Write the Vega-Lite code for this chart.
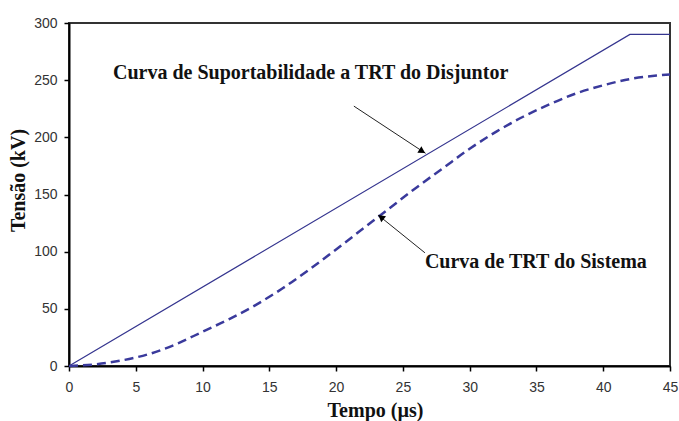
{
  "$schema": "https://vega.github.io/schema/vega-lite/v6.json",
  "width": 601,
  "height": 343,
  "autosize": "none",
  "padding": {"left": 69, "top": 23, "right": 9, "bottom": 55},
  "background": "white",
  "datasets": {
    "solid": [
      {"t": 0, "v": 0},
      {"t": 42, "v": 290},
      {"t": 45, "v": 290}
    ],
    "dashed": [
      {"t": 0, "v": 0}, {"t": 2, "v": 1.5}, {"t": 4, "v": 5}, {"t": 6, "v": 10.5},
      {"t": 8, "v": 19}, {"t": 10, "v": 30}, {"t": 12, "v": 41}, {"t": 14, "v": 53.5},
      {"t": 16, "v": 68}, {"t": 18, "v": 84.5}, {"t": 20, "v": 102}, {"t": 22, "v": 120},
      {"t": 24, "v": 138}, {"t": 26, "v": 156}, {"t": 28, "v": 173}, {"t": 30, "v": 190},
      {"t": 32, "v": 205}, {"t": 34, "v": 218}, {"t": 36, "v": 229}, {"t": 38, "v": 238.5},
      {"t": 40, "v": 245.5}, {"t": 42, "v": 251}, {"t": 44, "v": 254}, {"t": 45, "v": 255}
    ],
    "arrows": [
      {"t": 21.33, "v": 227.3, "t2": 26.7, "v2": 186},
      {"t": 26.65, "v": 99, "t2": 23.15, "v2": 132}
    ],
    "head1": [{"t": 26.45, "v": 187.8}],
    "head2": [{"t": 23.36, "v": 130.2}],
    "labels": [
      {"t": 3.29, "v": 250.6, "label": "Curva de Suportabilidade a TRT do Disjuntor"},
      {"t": 26.65, "v": 85.4, "label": "Curva de TRT do Sistema"}
    ]
  },
  "layer": [
    {
      "data": {"name": "solid"},
      "mark": {"type": "line", "color": "#35358f", "strokeWidth": 1.2},
      "encoding": {
        "x": {"field": "t", "type": "quantitative", "title": "Tempo (µs)",
              "scale": {"domain": [0, 45], "nice": false},
              "axis": {"values": [0, 5, 10, 15, 20, 25, 30, 35, 40, 45]}},
        "y": {"field": "v", "type": "quantitative", "title": "Tensão (kV)",
              "scale": {"domain": [0, 300], "nice": false},
              "axis": {"values": [0, 50, 100, 150, 200, 250, 300]}}
      }
    },
    {
      "data": {"name": "dashed"},
      "mark": {"type": "line", "color": "#3a3a9c", "strokeWidth": 2.5, "strokeDash": [9, 5], "interpolate": "monotone"},
      "encoding": {
        "x": {"field": "t", "type": "quantitative", "title": "Tempo (µs)"},
        "y": {"field": "v", "type": "quantitative", "title": "Tensão (kV)"}
      }
    },
    {
      "data": {"name": "arrows"},
      "mark": {"type": "rule", "color": "#222", "strokeWidth": 1},
      "encoding": {
        "x": {"field": "t", "type": "quantitative", "title": "Tempo (µs)"},
        "y": {"field": "v", "type": "quantitative", "title": "Tensão (kV)"},
        "x2": {"field": "t2"},
        "y2": {"field": "v2"}
      }
    },
    {
      "data": {"name": "head1"},
      "mark": {"type": "point", "shape": "triangle-up", "filled": true, "color": "#000", "size": 60, "angle": 121, "opacity": 1},
      "encoding": {
        "x": {"field": "t", "type": "quantitative", "title": "Tempo (µs)"},
        "y": {"field": "v", "type": "quantitative", "title": "Tensão (kV)"}
      }
    },
    {
      "data": {"name": "head2"},
      "mark": {"type": "point", "shape": "triangle-up", "filled": true, "color": "#000", "size": 60, "angle": 308, "opacity": 1},
      "encoding": {
        "x": {"field": "t", "type": "quantitative", "title": "Tempo (µs)"},
        "y": {"field": "v", "type": "quantitative", "title": "Tensão (kV)"}
      }
    },
    {
      "data": {"name": "labels"},
      "mark": {"type": "text", "align": "left", "baseline": "alphabetic", "font": "Liberation Serif", "fontWeight": "bold", "fontSize": 20, "color": "#111"},
      "encoding": {
        "x": {"field": "t", "type": "quantitative", "title": "Tempo (µs)"},
        "y": {"field": "v", "type": "quantitative", "title": "Tensão (kV)"},
        "text": {"field": "label"}
      }
    }
  ],
  "config": {
    "view": {"stroke": "#333", "strokeWidth": 2},
    "axis": {
      "grid": false,
      "domainColor": "#000",
      "domainWidth": 2,
      "tickColor": "#000",
      "tickSize": 5,
      "tickWidth": 1.5,
      "labelFont": "Liberation Sans",
      "labelFontSize": 14,
      "labelColor": "#333",
      "labelFlush": false,
      "labelOverlap": false,
      "titleFont": "Liberation Serif",
      "titleFontSize": 20,
      "titleFontWeight": "bold",
      "titleColor": "#111"
    },
    "axisX": {"labelPadding": 9, "titleX": 306, "titleY": 50, "titleBaseline": "alphabetic", "titleAlign": "center"},
    "axisY": {"labelPadding": 7, "titleX": -51, "titleY": 157, "titleAngle": -90, "titleBaseline": "middle", "titleAlign": "center"}
  }
}
